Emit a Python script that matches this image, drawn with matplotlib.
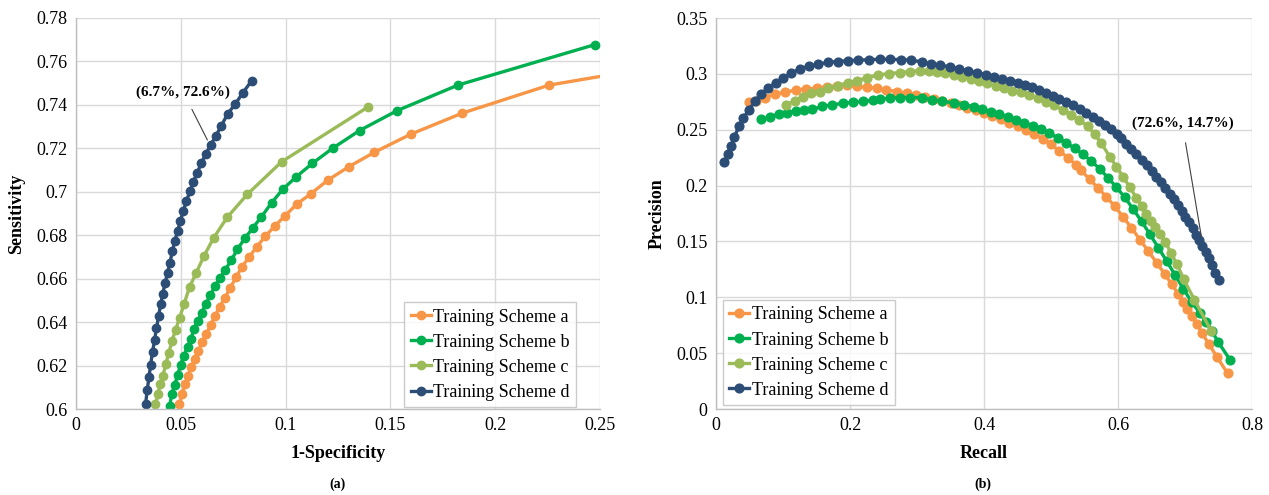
import matplotlib
matplotlib.use("Agg")
import matplotlib.pyplot as plt
from matplotlib.ticker import FuncFormatter

plt.rcParams['font.family'] = ['Liberation Serif', 'DejaVu Serif']

labels = ["Training Scheme a", "Training Scheme b", "Training Scheme c", "Training Scheme d"]
colors = ["#F79646", "#00B050", "#9BBB59", "#2C4D75"]

# ---- (a) ROC-like: 1-Specificity vs Sensitivity ----
roc_a_x = [0.0493, 0.0506, 0.0521, 0.0534, 0.0550, 0.0567, 0.0583, 0.0603, 0.0621, 0.0642,
           0.0662, 0.0685, 0.0710, 0.0736, 0.0764, 0.0792, 0.0826, 0.0862, 0.0903, 0.0948,
           0.0997, 0.1053, 0.1122, 0.1202, 0.1301, 0.1424, 0.1597, 0.1843, 0.2257, 0.2800]
roc_a_y = [0.6023, 0.6069, 0.6115, 0.6154, 0.6192, 0.6231, 0.6269, 0.6308, 0.6346, 0.6385,
           0.6428, 0.6469, 0.6512, 0.6557, 0.6608, 0.6654, 0.6700, 0.6746, 0.6795, 0.6842,
           0.6889, 0.6943, 0.6992, 0.7054, 0.7115, 0.7182, 0.7265, 0.7362, 0.7491, 0.7580]

roc_b_x = [0.0447, 0.0457, 0.0471, 0.0485, 0.0499, 0.0514, 0.0532, 0.0549, 0.0562, 0.0580,
           0.0600, 0.0619, 0.0641, 0.0662, 0.0687, 0.0713, 0.0741, 0.0770, 0.0805, 0.0844,
           0.0885, 0.0933, 0.0986, 0.1051, 0.1128, 0.1224, 0.1353, 0.1533, 0.1822, 0.2474]
roc_b_y = [0.6015, 0.6069, 0.6112, 0.6157, 0.6203, 0.6246, 0.6285, 0.6323, 0.6369, 0.6405,
           0.6443, 0.6485, 0.6523, 0.6565, 0.6605, 0.6642, 0.6685, 0.6735, 0.6785, 0.6834,
           0.6885, 0.6949, 0.7011, 0.7069, 0.7131, 0.7200, 0.7282, 0.7374, 0.7491, 0.7677]

roc_c_x = [0.0379, 0.0391, 0.0402, 0.0414, 0.0429, 0.0442, 0.0458, 0.0475, 0.0494, 0.0516,
           0.0542, 0.0573, 0.0611, 0.0657, 0.0721, 0.0818, 0.0981, 0.1391]
roc_c_y = [0.6023, 0.6069, 0.6115, 0.6151, 0.6208, 0.6257, 0.6312, 0.6365, 0.6418, 0.6485,
           0.6562, 0.6626, 0.6705, 0.6788, 0.6882, 0.6989, 0.7138, 0.7389]

roc_d_x = [0.0332, 0.0340, 0.0348, 0.0356, 0.0365, 0.0375, 0.0384, 0.0394, 0.0404, 0.0414,
           0.0425, 0.0437, 0.0448, 0.0460, 0.0471, 0.0485, 0.0498, 0.0512, 0.0527, 0.0544,
           0.0560, 0.0578, 0.0598, 0.0619, 0.0642, 0.0667, 0.0693, 0.0723, 0.0759, 0.0797, 0.0838]
roc_d_y = [0.6023, 0.6089, 0.6146, 0.6203, 0.6262, 0.6318, 0.6372, 0.6428, 0.6482, 0.6531,
           0.6580, 0.6628, 0.6674, 0.6726, 0.6774, 0.6820, 0.6866, 0.6912, 0.6958, 0.7003,
           0.7046, 0.7088, 0.7131, 0.7174, 0.7215, 0.7257, 0.7303, 0.7358, 0.7403, 0.7457, 0.7511]

# ---- (b) Precision-Recall ----
pr_a_x = [0.0490, 0.0600, 0.0725, 0.0875, 0.1025, 0.1190, 0.1350, 0.1500, 0.1650, 0.1800,
          0.1950, 0.2100, 0.2250, 0.2400, 0.2540, 0.2700, 0.2851, 0.2990, 0.3125, 0.3250,
          0.3375, 0.3500, 0.3625, 0.3750, 0.3875, 0.4000, 0.4125, 0.4250, 0.4375, 0.4500,
          0.4625, 0.4750, 0.4875, 0.5000, 0.5125, 0.5250, 0.5375, 0.5450, 0.5575, 0.5701,
          0.5826, 0.5951, 0.6076, 0.6201, 0.6326, 0.6452, 0.6576, 0.6701, 0.6802, 0.6902,
          0.6976, 0.7036, 0.7101, 0.7176, 0.7250, 0.7352, 0.7476, 0.7637]
pr_a_y = [0.2744, 0.2759, 0.2788, 0.2818, 0.2836, 0.2854, 0.2866, 0.2871, 0.2884, 0.2893,
          0.2896, 0.2889, 0.2880, 0.2871, 0.2857, 0.2842, 0.2827, 0.2812, 0.2797, 0.2779,
          0.2760, 0.2740, 0.2719, 0.2697, 0.2673, 0.2648, 0.2621, 0.2593, 0.2563, 0.2531,
          0.2497, 0.2461, 0.2420, 0.2370, 0.2310, 0.2250, 0.2185, 0.2135, 0.2057, 0.1979,
          0.1900, 0.1815, 0.1720, 0.1621, 0.1517, 0.1413, 0.1310, 0.1205, 0.1117, 0.1027,
          0.0955, 0.0895, 0.0835, 0.0765, 0.0680, 0.0586, 0.0467, 0.0318]

pr_b_x = [0.0675, 0.0800, 0.0935, 0.1060, 0.1190, 0.1315, 0.1440, 0.1575, 0.1725, 0.1890,
          0.2050, 0.2200, 0.2350, 0.2450, 0.2590, 0.2750, 0.2900, 0.3076, 0.3226, 0.3376,
          0.3551, 0.3701, 0.3851, 0.3976, 0.4101, 0.4226, 0.4351, 0.4476, 0.4601, 0.4726,
          0.4851, 0.4976, 0.5101, 0.5226, 0.5351, 0.5476, 0.5601, 0.5726, 0.5851, 0.5976,
          0.6101, 0.6226, 0.6351, 0.6476, 0.6601, 0.6726, 0.6851, 0.6977, 0.7101, 0.7226,
          0.7311, 0.7401, 0.7491, 0.7672]
pr_b_y = [0.2598, 0.2610, 0.2643, 0.2654, 0.2670, 0.2675, 0.2681, 0.2708, 0.2723, 0.2735,
          0.2746, 0.2753, 0.2764, 0.2777, 0.2782, 0.2788, 0.2788, 0.2788, 0.2770, 0.2755,
          0.2740, 0.2725, 0.2705, 0.2685, 0.2662, 0.2640, 0.2615, 0.2590, 0.2563, 0.2535,
          0.2503, 0.2468, 0.2428, 0.2384, 0.2335, 0.2280, 0.2220, 0.2150, 0.2070, 0.1985,
          0.1895, 0.1790, 0.1680, 0.1565, 0.1445, 0.1325, 0.1200, 0.1075, 0.0955, 0.0857,
          0.0782, 0.0699, 0.0604, 0.0440]

pr_c_x = [0.1050, 0.1175, 0.1300, 0.1425, 0.1550, 0.1675, 0.1815, 0.1965, 0.2110, 0.2260,
          0.2425, 0.2585, 0.2740, 0.2900, 0.3050, 0.3175, 0.3300, 0.3425, 0.3550, 0.3675,
          0.3800, 0.3925, 0.4050, 0.4175, 0.4300, 0.4425, 0.4550, 0.4675, 0.4800, 0.4925,
          0.5050, 0.5175, 0.5300, 0.5425, 0.5550, 0.5650, 0.5750, 0.5876, 0.5976, 0.6076,
          0.6176, 0.6276, 0.6351, 0.6416, 0.6486, 0.6556, 0.6631, 0.6706, 0.6791, 0.6881,
          0.6981, 0.7141, 0.7391]
pr_c_y = [0.2723, 0.2759, 0.2797, 0.2827, 0.2842, 0.2871, 0.2895, 0.2920, 0.2940, 0.2967,
          0.2991, 0.3003, 0.3012, 0.3021, 0.3030, 0.3028, 0.3018, 0.3005, 0.2990, 0.2973,
          0.2955, 0.2936, 0.2916, 0.2895, 0.2873, 0.2850, 0.2835, 0.2810, 0.2783, 0.2752,
          0.2717, 0.2678, 0.2635, 0.2588, 0.2530, 0.2460, 0.2380, 0.2260, 0.2170, 0.2080,
          0.1985, 0.1889, 0.1821, 0.1750, 0.1681, 0.1628, 0.1568, 0.1496, 0.1398, 0.1295,
          0.1161, 0.0976, 0.0699]

pr_d_x = [0.0125, 0.0174, 0.0225, 0.0275, 0.0340, 0.0410, 0.0490, 0.0585, 0.0675, 0.0775,
          0.0890, 0.1000, 0.1125, 0.1250, 0.1385, 0.1525, 0.1675, 0.1820, 0.1975, 0.2125,
          0.2290, 0.2450, 0.2600, 0.2760, 0.2915, 0.3075, 0.3215, 0.3350, 0.3490, 0.3625,
          0.3760, 0.3890, 0.4025, 0.4150, 0.4276, 0.4390, 0.4501, 0.4611, 0.4720, 0.4825,
          0.4926, 0.5026, 0.5126, 0.5226, 0.5326, 0.5426, 0.5526, 0.5626, 0.5716, 0.5811,
          0.5901, 0.5991, 0.6051, 0.6126, 0.6201, 0.6276, 0.6351, 0.6426, 0.6501, 0.6571,
          0.6641, 0.6706, 0.6771, 0.6836, 0.6896, 0.6951, 0.7006, 0.7061, 0.7116, 0.7166,
          0.7216, 0.7261, 0.7306, 0.7351, 0.7401, 0.7451, 0.7502]
pr_d_y = [0.2208, 0.2282, 0.2357, 0.2434, 0.2529, 0.2604, 0.2679, 0.2753, 0.2818, 0.2871,
          0.2920, 0.2961, 0.3005, 0.3045, 0.3068, 0.3086, 0.3104, 0.3110, 0.3119, 0.3121,
          0.3128, 0.3130, 0.3130, 0.3128, 0.3121, 0.3108, 0.3089, 0.3077, 0.3062, 0.3045,
          0.3027, 0.3012, 0.2994, 0.2976, 0.2958, 0.2940, 0.2920, 0.2898, 0.2878, 0.2854,
          0.2827, 0.2800, 0.2777, 0.2750, 0.2717, 0.2687, 0.2652, 0.2616, 0.2580, 0.2545,
          0.2505, 0.2461, 0.2425, 0.2375, 0.2330, 0.2280, 0.2230, 0.2180, 0.2128, 0.2080,
          0.2030, 0.1979, 0.1929, 0.1878, 0.1824, 0.1771, 0.1720, 0.1670, 0.1616, 0.1562,
          0.1509, 0.1462, 0.1404, 0.1348, 0.1286, 0.1220, 0.1152]

roc_x = [roc_a_x, roc_b_x, roc_c_x, roc_d_x]
roc_y = [roc_a_y, roc_b_y, roc_c_y, roc_d_y]
pr_x = [pr_a_x, pr_b_x, pr_c_x, pr_d_x]
pr_y = [pr_a_y, pr_b_y, pr_c_y, pr_d_y]

W, H = 1269, 495
fig = plt.figure(figsize=(W / 100, H / 100), dpi=100)

ax1 = fig.add_axes([76 / W, (H - 409) / H, (600 - 76) / W, (409 - 18) / H])
ax2 = fig.add_axes([716 / W, (H - 409) / H, (1252 - 716) / W, (409 - 18) / H])

fmt = FuncFormatter(lambda v, p: ("%g" % round(v, 4)))


def style(ax):
    ax.grid(True, color="#d9d9d9", linewidth=1.0)
    ax.set_axisbelow(True)
    for s in ["top", "right"]:
        ax.spines[s].set_visible(False)
    for s in ["left", "bottom"]:
        ax.spines[s].set_color("#bfbfbf")
        ax.spines[s].set_linewidth(1.0)
    ax.tick_params(length=0, labelsize=13, pad=6, colors="black")
    ax.xaxis.set_major_formatter(fmt)
    ax.yaxis.set_major_formatter(fmt)


leg_kw = dict(fontsize=13, frameon=True, fancybox=False, edgecolor="#bfbfbf",
              handlelength=1.1, handletextpad=0.15, labelspacing=0.45,
              borderpad=0.35)

for xs, ys, c, lab in zip(roc_x, roc_y, colors, labels):
    ax1.plot(xs, ys, color=c, lw=2.4, marker="o", ms=6, label=lab)
ax1.set_xlim(0, 0.25)
ax1.set_ylim(0.6, 0.78)
ax1.set_xticks([0, 0.05, 0.1, 0.15, 0.2, 0.25])
ax1.set_yticks([0.6, 0.62, 0.64, 0.66, 0.68, 0.7, 0.72, 0.74, 0.76, 0.78])
style(ax1)
ax1.set_xlabel("1-Specificity", fontsize=13, fontweight="bold", labelpad=8)
ax1.set_ylabel("Sensitivity", fontsize=13, fontweight="bold", labelpad=8)
leg1 = ax1.legend(loc="lower right", bbox_to_anchor=(0.958, 0.0),
                  borderaxespad=0.1, **leg_kw)
leg1.get_frame().set_linewidth(1.0)
ax1.annotate("(6.7%, 72.6%)", xy=(0.0627, 0.7238), xytext=(0.0512, 0.7458),
             ha="center", va="center", fontsize=11, fontweight="bold",
             arrowprops=dict(arrowstyle="-", color="#404040", lw=0.8,
                             shrinkA=6, shrinkB=0))

for xs, ys, c, lab in zip(pr_x, pr_y, colors, labels):
    ax2.plot(xs, ys, color=c, lw=2.4, marker="o", ms=6.3, label=lab)
ax2.set_xlim(0, 0.8)
ax2.set_ylim(0, 0.35)
ax2.set_xticks([0, 0.2, 0.4, 0.6, 0.8])
ax2.set_yticks([0, 0.05, 0.1, 0.15, 0.2, 0.25, 0.3, 0.35])
style(ax2)
ax2.set_xlabel("Recall", fontsize=13, fontweight="bold", labelpad=8)
ax2.set_ylabel("Precision", fontsize=13, fontweight="bold", labelpad=8)
leg2 = ax2.legend(loc="lower left", bbox_to_anchor=(0.013, 0.01),
                  borderaxespad=0.0, **leg_kw)
leg2.get_frame().set_linewidth(1.0)
ax2.annotate("(72.6%, 14.7%)", xy=(0.7245, 0.154), xytext=(0.696, 0.2554),
             ha="center", va="center", fontsize=11, fontweight="bold",
             arrowprops=dict(arrowstyle="-", color="#404040", lw=0.8,
                             shrinkA=7, shrinkB=0))

fig.text(338 / W, 1 - 484 / H, "(a)", ha="center", va="center", fontsize=10, fontweight="bold")
fig.text(983 / W, 1 - 484 / H, "(b)", ha="center", va="center", fontsize=10, fontweight="bold")

fig.savefig("out.png", dpi=100)
